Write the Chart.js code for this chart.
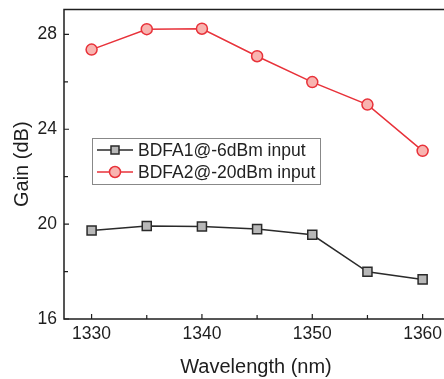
<!DOCTYPE html>
<html>
<head>
<meta charset="utf-8">
<script src="https://cdn.jsdelivr.net/npm/chart.js@4"></script>
<style>
  html, body { margin: 0; padding: 0; background: #fff; overflow: hidden; width: 444px; height: 379px; }
  canvas { position: absolute; left: 0; top: -8px; }
</style>
</head>
<body>
<canvas id="myChart" width="462" height="387"></canvas>
<script>
const wavelengths = [1330, 1335, 1340, 1345, 1350, 1355, 1360];
const gainBDFA1 = [19.73, 19.92, 19.90, 19.79, 19.55, 17.99, 17.67];
const gainBDFA2 = [27.36, 28.22, 28.24, 27.08, 25.99, 25.04, 23.09];
const xTicks = [1330, 1335, 1340, 1345, 1350, 1355, 1360];
const xLabels = [1330, 1340, 1350, 1360];
const yTicks = [16, 18, 20, 22, 24, 26, 28];
const yLabels = [16, 20, 24, 28];
const seriesNames = ['BDFA1@-6dBm input', 'BDFA2@-20dBm input'];

const FONT = '"Liberation Sans", Arial, sans-serif';
const AXIS = '#1e1e1e';

// box around plot + inward ticks + legend in the plot
const frame = {
  id: 'frame',
  afterDatasetsDraw(chart) {
    const { ctx, chartArea: a, scales } = chart;
    ctx.save();
    ctx.strokeStyle = AXIS;
    ctx.lineWidth = 1.5;
    ctx.strokeRect(a.left, a.top, a.right - a.left, a.bottom - a.top);
    ctx.lineWidth = 1.2;
    ctx.beginPath();
    xTicks.forEach(v => {
      const x = scales.x.getPixelForValue(v);
      const len = xLabels.includes(v) ? 5 : 4;
      ctx.moveTo(x, a.bottom); ctx.lineTo(x, a.bottom - len);
    });
    yTicks.forEach(v => {
      const y = scales.y.getPixelForValue(v);
      const len = yLabels.includes(v) ? 5 : 4;
      ctx.moveTo(a.left, y); ctx.lineTo(a.left + len, y);
    });
    ctx.stroke();

    // legend box (canvas is shifted up by 8px)
    const lx = 92, ly = 146, lw = 228, lh = 46;
    ctx.strokeStyle = '#888';
    ctx.lineWidth = 1;
    ctx.strokeRect(lx + 0.5, ly + 0.5, lw, lh);
    ctx.font = '17.5px ' + FONT;
    ctx.textBaseline = 'middle';
    chart.data.datasets.forEach((ds, i) => {
      const cy = ly + 12 + i * 22;
      ctx.strokeStyle = ds.borderColor;
      ctx.lineWidth = 1.5;
      ctx.beginPath();
      ctx.moveTo(lx + 5, cy); ctx.lineTo(lx + 41, cy);
      ctx.stroke();
      ctx.fillStyle = ds.pointBackgroundColor;
      ctx.strokeStyle = ds.pointBorderColor;
      ctx.beginPath();
      if (ds.pointStyle === 'rect') {
        ctx.rect(lx + 23 - 4, cy - 4, 8, 8);
      } else {
        ctx.arc(lx + 23, cy, 5.5, 0, Math.PI * 2);
      }
      ctx.fill(); ctx.stroke();
      ctx.fillStyle = '#222';
      ctx.fillText(ds.label, lx + 46, cy + 1);
    });
    ctx.restore();
  }
};

const data = {
  datasets: [{
    label: seriesNames[0],
    data: wavelengths.map((x, i) => ({ x: x, y: gainBDFA1[i] })),
    borderColor: '#2a2a2a',
    borderWidth: 1.5,
    pointStyle: 'rect',
    pointRadius: 6.4,
    pointBackgroundColor: '#b8b8b8',
    pointBorderColor: '#2a2a2a',
    pointBorderWidth: 1.5
  }, {
    label: seriesNames[1],
    data: wavelengths.map((x, i) => ({ x: x, y: gainBDFA2[i] })),
    borderColor: '#e8323a',
    borderWidth: 1.5,
    pointStyle: 'circle',
    pointRadius: 5.5,
    pointBackgroundColor: '#f8b4b0',
    pointBorderColor: '#e8323a',
    pointBorderWidth: 1.5
  }]
};

const config = {
  type: 'line',
  data: data,
  plugins: [frame],
  options: {
    responsive: false,
    animation: false,
    layout: { padding: { top: 1, right: 14, left: 0, bottom: 0 } },
    plugins: { legend: { display: false }, tooltip: { enabled: false } },
    scales: {
      x: {
        type: 'linear',
        min: 1327.5,
        max: 1362.3,
        afterBuildTicks: s => { s.ticks = xTicks.map(v => ({ value: v })); },
        afterFit: s => { s.height = 60; },
        grid: { display: false, drawTicks: false },
        border: { display: false },
        ticks: {
          padding: 5,
          color: '#1e1e1e',
          font: { family: FONT, size: 17.5 },
          maxRotation: 0,
          autoSkip: false,
          callback: v => xLabels.includes(v) ? String(v) : ''
        },
        title: {
          display: true,
          text: 'Wavelength (nm)',
          color: '#1e1e1e',
          font: { family: FONT, size: 20 },
          padding: { top: 4, bottom: 0 }
        }
      },
      y: {
        min: 16,
        max: 29.05,
        afterBuildTicks: s => { s.ticks = yTicks.map(v => ({ value: v })); },
        afterFit: s => { s.width = 64; },
        grid: { display: false, drawTicks: false },
        border: { display: false },
        ticks: {
          padding: 7,
          color: '#1e1e1e',
          font: { family: FONT, size: 17.5 },
          autoSkip: false,
          callback: v => yLabels.includes(v) ? String(v) : ''
        },
        title: {
          display: true,
          text: 'Gain (dB)',
          color: '#1e1e1e',
          font: { family: FONT, size: 20 },
          padding: { top: 10, bottom: 0 }
        }
      }
    }
  }
};

const myChart = new Chart(document.getElementById('myChart'), config);
</script>
</body>
</html>
